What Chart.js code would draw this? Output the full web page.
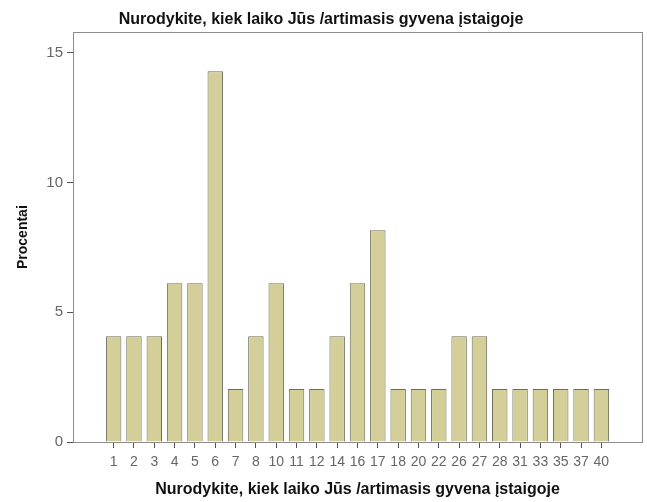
<!DOCTYPE html>
<html>
<head>
<meta charset="utf-8">
<script src="https://cdn.jsdelivr.net/npm/chart.js@4"></script>
<style>
  html, body { margin: 0; padding: 0; background: #fff; }
</style>
</head>
<body>
<canvas id="chart" width="647" height="502"></canvas>
<script>
const categories = ['1', '2', '3', '4', '5', '6', '7', '8', '10', '11', '12', '14', '16', '17', '18', '20', '22', '26', '27', '28', '31', '33', '35', '37', '40'];
const percents = [4.08, 4.08, 4.08, 6.12, 6.12, 14.29, 2.04, 4.08, 6.12, 2.04, 2.04, 4.08, 6.12, 8.16, 2.04, 2.04, 2.04, 4.08, 4.08, 2.04, 2.04, 2.04, 2.04, 2.04, 2.04];
const yTicks = [0, 5, 10, 15];

const titleText = 'Nurodykite, kiek laiko Jūs /artimasis gyvena įstaigoje';

// frame around the plot, like SPSS
const frame = {
    id: 'frame',
    afterDraw(chart) {
        const a = chart.chartArea;
        const c = chart.ctx;
        c.save();
        c.strokeStyle = '#8c8c8c';
        c.lineWidth = 1;
        c.strokeRect(Math.round(a.left) + 0.5, Math.round(a.top) + 0.5,
            Math.round(a.right - a.left), Math.round(a.bottom - a.top));
        c.restore();
    }
};

new Chart(document.getElementById('chart'), {
    type: 'bar',
    data: {
        datasets: [{
            label: 'Procentai',
            data: percents.map((v, i) => ({ x: i, y: v })),
            backgroundColor: '#d4cf98',
            borderColor: '#6f6d5a',
            borderWidth: 1,
            borderSkipped: 'bottom',
            barPercentage: 0.76,
            categoryPercentage: 1
        }]
    },
    options: {
        responsive: false,
        animation: false,
        layout: { padding: { top: 0, right: 5, bottom: 0, left: 0 } },
        plugins: {
            legend: { display: false },
            tooltip: { enabled: false },
            title: {
                display: true,
                text: titleText,
                color: '#111',
                font: { family: 'Liberation Sans', size: 16, weight: 'bold' },
                padding: { top: 10, bottom: 3 }
            }
        },
        scales: {
            x: {
                type: 'linear',
                min: -2,
                max: 26,
                offset: false,
                afterBuildTicks: (s) => { s.ticks = categories.map((c, i) => ({ value: i })); },
                afterFit: (s) => { s.height = 60; },
                grid: { drawOnChartArea: false, offset: false, tickLength: 6, color: '#555' },
                border: { color: '#8c8c8c' },
                ticks: {
                    autoSkip: false,
                    maxRotation: 0,
                    padding: 6,
                    color: '#666',
                    font: { family: 'Liberation Sans', size: 14 },
                    callback: (v) => categories[v]
                },
                title: {
                    display: true,
                    text: titleText,
                    color: '#111',
                    font: { family: 'Liberation Sans', size: 16, weight: 'bold' },
                    padding: { top: 0, bottom: 3 }
                }
            },
            y: {
                min: 0,
                max: 15.8,
                afterBuildTicks: (s) => { s.ticks = yTicks.map(v => ({ value: v })); },
                afterFit: (s) => { s.width = 73; },
                grid: { drawOnChartArea: false, tickLength: 6, color: '#555' },
                border: { color: '#8c8c8c' },
                ticks: {
                    padding: 4,
                    color: '#666',
                    font: { family: 'Liberation Sans', size: 15 }
                },
                title: {
                    display: true,
                    text: 'Procentai',
                    color: '#111',
                    font: { family: 'Liberation Sans', size: 14, weight: 'bold' },
                    padding: { top: 15, bottom: 0 }
                }
            }
        }
    },
    plugins: [frame]
});
</script>
</body>
</html>
